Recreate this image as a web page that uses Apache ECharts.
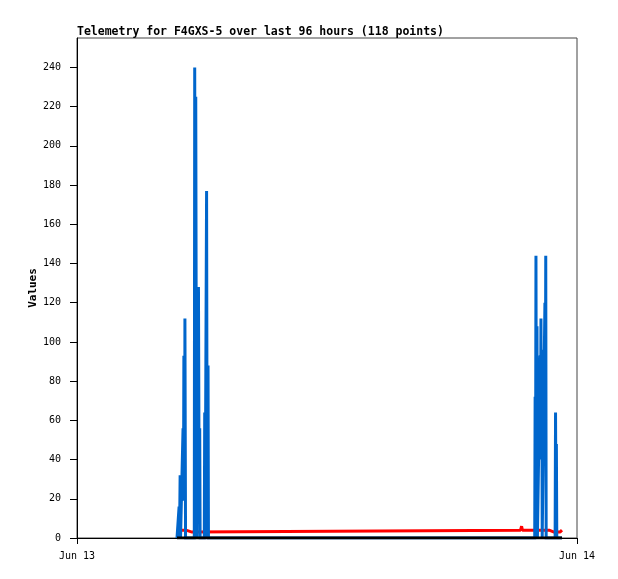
<!DOCTYPE html>
<html>
<head>
<meta charset="utf-8">
<script src="https://cdn.jsdelivr.net/npm/echarts@6/dist/echarts.min.js"></script>
<style>
  html, body { margin: 0; padding: 0; background: #fff; }
  #chart { width: 618px; height: 579px; }
</style>
</head>
<body>
<div id="chart"></div>
<script>
// Jun 13 00:00, all times below are hours after it
const DAY0 = Date.UTC(2024, 5, 13);
const HOUR = 3600 * 1000;

// blue series (spiky values)
const blueHours = [4.80, 4.88, 4.90, 4.92, 4.95, 4.97, 5.05, 5.09, 5.11, 5.13, 5.17, 5.18, 5.21, 5.23,
  5.63, 5.65, 5.68, 5.70, 5.73, 5.76, 5.78, 5.81, 5.83, 5.86, 5.89, 5.91, 5.93, 5.96,
  6.11, 6.13, 6.15, 6.16, 6.22, 6.25, 6.26, 6.29, 6.31,
  21.97, 21.99, 22.01, 22.03, 22.05, 22.08, 22.10, 22.12, 22.14, 22.23, 22.25, 22.27, 22.29, 22.31, 22.33, 22.35, 22.37,
  22.46, 22.48, 22.50, 22.52, 22.54, 22.95, 22.97, 22.99, 23.01, 23.03, 23.28];
const blueValues = [0, 0, 16, 0, 32, 0, 0, 56, 19, 93, 19, 112, 0, 0,
  0, 240, 60, 225, 64, 0, 56, 16, 128, 31, 56, 0, 0, 0,
  0, 64, 0, 0, 177, 0, 0, 88, 0,
  0, 72, 18, 144, 36, 108, 0, 0, 0, 93, 56, 112, 40, 96, 0, 0, 0,
  120, 56, 144, 0, 0, 0, 64, 16, 48, 0, 0];

// red series (around 4)
const redHours = [4.80, 5.23, 5.28, 5.52, 5.57, 21.29, 21.34, 21.38, 22.66, 22.70, 22.90, 22.94, 22.99, 23.04, 23.18, 23.23, 23.28];
const redValues = [4, 4, 3, 3, 4, 4, 6, 4, 4, 3, 3, 4, 4, 3, 3, 4, 4];

// black series (zero)
const blackHours = [4.80, 23.28];
const blackValues = [0, 0];

const xTickLabels = ['Jun 13', 'Jun 14'];

function pairs(hours, values) {
  return hours.map((h, i) => [DAY0 + h * HOUR, values[i]]);
}

const chart = echarts.init(document.getElementById('chart'));
const mono = 'DejaVu Sans Mono';

chart.setOption({
  animation: false,
  title: {
    text: 'Telemetry for F4GXS-5 over last 96 hours (118 points)',
    left: 77,
    top: 26,
    padding: 0,
    textStyle: { fontFamily: mono, fontSize: 11.5, fontWeight: 'bold', color: '#000' }
  },
  grid: {
    left: 77, top: 38, width: 500, height: 500,
    show: true, borderColor: '#444', borderWidth: 1, backgroundColor: '#fff'
  },
  xAxis: {
    type: 'value',
    min: DAY0,
    max: DAY0 + 24 * HOUR,
    interval: 24 * HOUR,
    splitLine: { show: false },
    axisLine: { lineStyle: { color: '#000', width: 1 } },
    axisTick: { length: 6, lineStyle: { color: '#000' } },
    axisLabel: {
      margin: 13,
      fontFamily: mono, fontSize: 10, color: '#000',
      formatter: (v) => xTickLabels[Math.round((v - DAY0) / (24 * HOUR))] || ''
    }
  },
  yAxis: {
    type: 'value',
    min: 0,
    max: 255,
    interval: 20,
    name: 'Values',
    nameLocation: 'middle',
    nameGap: 38,
    nameRotate: 90,
    nameMoveOverlap: false,
    nameTextStyle: { fontFamily: mono, fontSize: 11, fontWeight: 'bold', color: '#000' },
    splitLine: { show: false },
    axisLine: { show: true, lineStyle: { color: '#000', width: 1 } },
    axisTick: { length: 7, lineStyle: { color: '#000' } },
    axisLabel: {
      margin: 16,
      showMaxLabel: false,
      fontFamily: mono, fontSize: 10, color: '#000',
      formatter: (v) => (v % 20 === 0 ? String(v) : '')
    }
  },
  series: [
    {
      type: 'line', data: pairs(redHours, redValues), showSymbol: false,
      lineStyle: { color: '#ff0000', width: 3 }
    },
    {
      type: 'line', data: pairs(blueHours, blueValues), showSymbol: false,
      lineStyle: { color: '#0066cc', width: 3, cap: 'butt', join: 'miter' }
    },
    {
      type: 'line', data: pairs(blackHours, blackValues), showSymbol: false,
      lineStyle: { color: '#000', width: 3 }
    }
  ]
});
</script>
</body>
</html>
